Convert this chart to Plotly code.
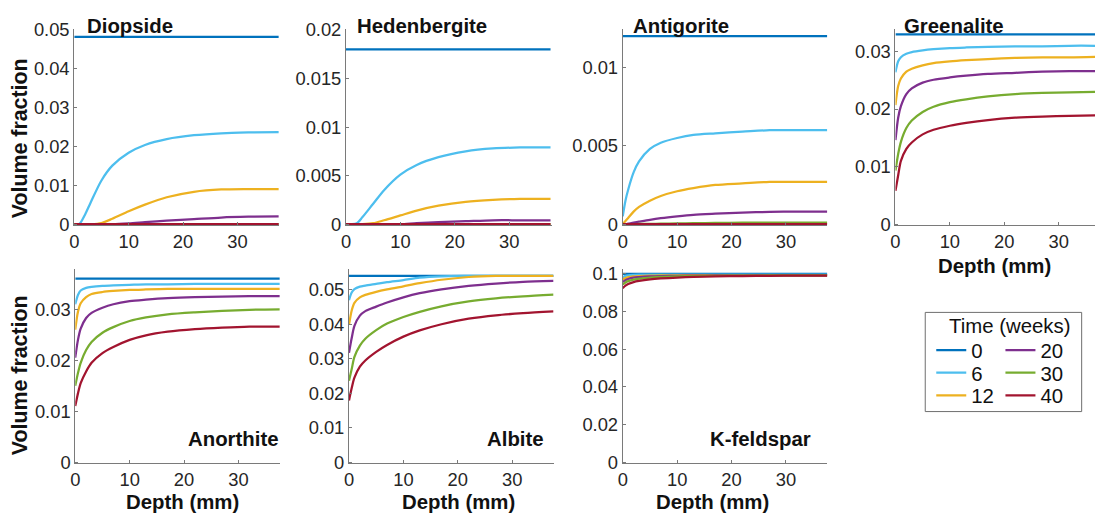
import plotly.graph_objects as go

# Target picture geometry. The page is photographed with an 8 px page margin and
# rescaled, so target pixels are mapped back to page pixels.
W_T, H_T = 1095, 516
OFF = 8
SX = W_T / (W_T + OFF)
SY = H_T / (H_T + 2 * OFF)
W, H = W_T, H_T + OFF
FS = 1 / ((SX + SY) / 2)  # font compensation

depth = [0, 0.5, 1, 2, 3, 5, 7, 10, 13, 17, 22, 27, 32, 37.6]
weeks = ["0", "6", "12", "20", "30", "40"]
colors = ["#0072BD", "#4DBEEE", "#EDB120", "#7E2F8E", "#77AC30", "#A2142F"]
x_ticks = [0, 10, 20, 30]

diopside = [
    [0.048, 0.048, 0.048, 0.048, 0.048, 0.048, 0.048, 0.048, 0.048, 0.048, 0.048, 0.048, 0.048, 0.048],
    [0, 0, 0.0001, 0.0025, 0.0055, 0.0112, 0.0150, 0.0183, 0.0203, 0.0218, 0.0228, 0.0233, 0.0235, 0.0236],
    [0, 0, 0, 0, 0, 0.0003, 0.0014, 0.0033, 0.0050, 0.0069, 0.0083, 0.0089, 0.0090, 0.0090],
    [0, 0, 0, 0, 0, 0, 0, 0.0002, 0.0005, 0.0009, 0.0013, 0.0017, 0.0019, 0.0020],
    [0, 0, 0, 0, 0, 0, 0, 0, 0, 0, 0, 0, 0, 0],
    [0, 0, 0, 0, 0, 0, 0, 0, 0, 0, 0, 0, 0, 0],
]
hedenbergite = [
    [0.018, 0.018, 0.018, 0.018, 0.018, 0.018, 0.018, 0.018, 0.018, 0.018, 0.018, 0.018, 0.018, 0.018],
    [0, 0, 0, 0.0001, 0.0007, 0.0021, 0.0035, 0.0051, 0.0061, 0.0069, 0.0075, 0.0078, 0.0079, 0.0079],
    [0, 0, 0, 0, 0, 0.0001, 0.0004, 0.0009, 0.0014, 0.0019, 0.0023, 0.0025, 0.0026, 0.0026],
    [0, 0, 0, 0, 0, 0, 0, 0, 0.0001, 0.0002, 0.0003, 0.0004, 0.0004, 0.0004],
    [0, 0, 0, 0, 0, 0, 0, 0, 0, 0, 0, 0, 0, 0],
    [0, 0, 0, 0, 0, 0, 0, 0, 0, 0, 0, 0, 0, 0],
]
antigorite = [
    [0.012, 0.012, 0.012, 0.012, 0.012, 0.012, 0.012, 0.012, 0.012, 0.012, 0.012, 0.012, 0.012, 0.012],
    [0.0005, 0.0015, 0.0022, 0.0033, 0.0040, 0.0048, 0.0052, 0.0055, 0.0057, 0.0058, 0.0059, 0.0060, 0.0060, 0.0060],
    [0, 0.0002, 0.0004, 0.0008, 0.0011, 0.0015, 0.0018, 0.0021, 0.0023, 0.0025, 0.0026, 0.0027, 0.0027, 0.0027],
    [0, 0, 0.00003, 0.0001, 0.00016, 0.00028, 0.00038, 0.0005, 0.0006, 0.00067, 0.00074, 0.00078, 0.0008, 0.0008],
    [0, 0, 0, 0, 0.00001, 0.00002, 0.00003, 0.00005, 0.00006, 0.00008, 0.00009, 0.0001, 0.0001, 0.0001],
    [0, 0, 0, 0, 0, 0, 0, 0, 0, 0, 0, 0, 0, 0],
]
greenalite = [
    [0.033, 0.033, 0.033, 0.033, 0.033, 0.033, 0.033, 0.033, 0.033, 0.033, 0.033, 0.033, 0.033, 0.033],
    [0.0264, 0.0283, 0.0290, 0.0296, 0.0299, 0.0302, 0.0304, 0.0306, 0.0307, 0.0308, 0.0309, 0.0309, 0.0310, 0.0310],
    [0.0207, 0.0240, 0.0253, 0.0265, 0.0270, 0.0276, 0.0280, 0.0283, 0.0285, 0.0287, 0.0289, 0.0290, 0.0290, 0.0291],
    [0.0146, 0.0185, 0.0205, 0.0226, 0.0236, 0.0246, 0.0251, 0.0255, 0.0258, 0.0261, 0.0263, 0.0265, 0.0266, 0.0266],
    [0.0093, 0.0122, 0.0143, 0.0167, 0.0180, 0.0195, 0.0204, 0.0212, 0.0217, 0.0222, 0.0226, 0.0228, 0.0229, 0.0230],
    [0.0058, 0.0085, 0.0110, 0.0131, 0.0142, 0.0156, 0.0164, 0.0171, 0.0176, 0.0181, 0.0185, 0.0187, 0.0188, 0.0189],
]
anorthite = [
    [0.036, 0.036, 0.036, 0.036, 0.036, 0.036, 0.036, 0.036, 0.036, 0.036, 0.036, 0.036, 0.036, 0.036],
    [0.0310, 0.0328, 0.0337, 0.0342, 0.0344, 0.0346, 0.0347, 0.0348, 0.0349, 0.0349, 0.0350, 0.0350, 0.0350, 0.0350],
    [0.0260, 0.0295, 0.0312, 0.0324, 0.0330, 0.0334, 0.0336, 0.0338, 0.0339, 0.0340, 0.0340, 0.0340, 0.0340, 0.0340],
    [0.0205, 0.0240, 0.0262, 0.0283, 0.0293, 0.0303, 0.0310, 0.0316, 0.0319, 0.0322, 0.0324, 0.0325, 0.0326, 0.0326],
    [0.0150, 0.0175, 0.0195, 0.0220, 0.0236, 0.0254, 0.0265, 0.0277, 0.0284, 0.0290, 0.0294, 0.0297, 0.0299, 0.0300],
    [0.0110, 0.0135, 0.0155, 0.0178, 0.0195, 0.0214, 0.0226, 0.0240, 0.0249, 0.0256, 0.0261, 0.0264, 0.0266, 0.0266],
]
albite = [
    [0.054, 0.054, 0.054, 0.054, 0.054, 0.054, 0.054, 0.054, 0.054, 0.054, 0.054, 0.054, 0.054, 0.054],
    [0.0470, 0.0492, 0.0502, 0.0509, 0.0512, 0.0517, 0.0522, 0.0528, 0.0535, 0.0539, 0.0540, 0.0540, 0.0540, 0.0540],
    [0.0398, 0.0440, 0.0462, 0.0478, 0.0485, 0.0494, 0.0501, 0.0510, 0.0519, 0.0529, 0.0537, 0.0540, 0.0540, 0.0540],
    [0.0317, 0.0360, 0.0395, 0.0425, 0.0438, 0.0451, 0.0463, 0.0478, 0.0490, 0.0501, 0.0511, 0.0518, 0.0523, 0.0526],
    [0.0236, 0.0270, 0.0305, 0.0338, 0.0358, 0.0383, 0.0402, 0.0421, 0.0436, 0.0452, 0.0466, 0.0475, 0.0481, 0.0486],
    [0.0179, 0.0215, 0.0245, 0.0277, 0.0295, 0.0320, 0.0340, 0.0364, 0.0382, 0.0400, 0.0416, 0.0426, 0.0432, 0.0437],
]
kfeldspar = [
    [0.1000, 0.1000, 0.1000, 0.1000, 0.1000, 0.1000, 0.1000, 0.1000, 0.1000, 0.1000, 0.1000, 0.1000, 0.1000, 0.1000],
    [0.0982, 0.0990, 0.0993, 0.0995, 0.0996, 0.0997, 0.0997, 0.0997, 0.0997, 0.0997, 0.0997, 0.0997, 0.0997, 0.0997],
    [0.0970, 0.0978, 0.0983, 0.0987, 0.0989, 0.0991, 0.0992, 0.0993, 0.0994, 0.0994, 0.0994, 0.0994, 0.0994, 0.0994],
    [0.0958, 0.0967, 0.0973, 0.0980, 0.0983, 0.0987, 0.0989, 0.0990, 0.0991, 0.0992, 0.0993, 0.0993, 0.0993, 0.0993],
    [0.0945, 0.0955, 0.0962, 0.0970, 0.0975, 0.0980, 0.0984, 0.0987, 0.0989, 0.0990, 0.0991, 0.0992, 0.0992, 0.0992],
    [0.0925, 0.0938, 0.0947, 0.0957, 0.0963, 0.0971, 0.0976, 0.0981, 0.0984, 0.0987, 0.0989, 0.0990, 0.0991, 0.0991],
]

diopside_yticks = [0, 0.01, 0.02, 0.03, 0.04, 0.05]
diopside_ylabels = ["0", "0.01", "0.02", "0.03", "0.04", "0.05"]
hedenbergite_yticks = [0, 0.005, 0.01, 0.015, 0.02]
hedenbergite_ylabels = ["0", "0.005", "0.01", "0.015", "0.02"]
antigorite_yticks = [0, 0.005, 0.01]
antigorite_ylabels = ["0", "0.005", "0.01"]
greenalite_yticks = [0, 0.01, 0.02, 0.03]
greenalite_ylabels = ["0", "0.01", "0.02", "0.03"]
anorthite_yticks = [0, 0.01, 0.02, 0.03]
anorthite_ylabels = ["0", "0.01", "0.02", "0.03"]
albite_yticks = [0, 0.01, 0.02, 0.03, 0.04, 0.05]
albite_ylabels = ["0", "0.01", "0.02", "0.03", "0.04", "0.05"]
kfeldspar_yticks = [0, 0.02, 0.04, 0.06, 0.08, 0.1]
kfeldspar_ylabels = ["0", "0.02", "0.04", "0.06", "0.08", "0.1"]

FONT = "Liberation Sans, Arial, sans-serif"
AX_COL = "#7a7a7a"
TXT = "#262626"

PX_PER_MM = 204 / 37.6

# name, data, yticks, ylabels, ymax, x-domain px, y-domain px (top, bottom), label style, label x
panels = [
    ("Diopside", diopside, diopside_yticks, diopside_ylabels, 0.05, (77, 281), (26, 224), "top", 88),
    ("Hedenbergite", hedenbergite, hedenbergite_yticks, hedenbergite_ylabels, 0.0201, (348, 553), (26, 224), "top", 357),
    ("Antigorite", antigorite, antigorite_yticks, antigorite_ylabels, 0.01245, (624, 828), (26, 224), "top", 632),
    ("Greenalite", greenalite, greenalite_yticks, greenalite_ylabels, 0.0339, (896, W_T), (26, 224), "top", 903),
    ("Anorthite", anorthite, anorthite_yticks, anorthite_ylabels, 0.0379, (78, 282), (268, 464), "bottom", 283),
    ("Albite", albite, albite_yticks, albite_ylabels, 0.056, (351, 555), (268, 464), "bottom", 547),
    ("K-feldspar", kfeldspar, kfeldspar_yticks, kfeldspar_ylabels, 0.1026, (624, 828), (268, 464), "bottom", 814),
]


def px_x(p):
    return min(1.0, max(0.0, (p / SX - OFF) / W))


def px_y(p):
    return min(1.0, max(0.0, 1 - (p / SY - OFF) / H))


fig = go.Figure()
layout = dict(
    width=W, height=H, margin=dict(l=0, r=0, t=0, b=0),
    paper_bgcolor="white", plot_bgcolor="white",
    font=dict(family=FONT, color=TXT),
    annotations=[], shapes=[],
)

legend_pos = [(931.7, 350), (931.7, 372.7), (931.7, 395.5), (1000.7, 350), (1000.7, 372.7), (1000.7, 395.5)]

for i, (name, data, yt, yl, ymax, dx, dy, lab, labx) in enumerate(panels):
    k = "" if i == 0 else str(i + 1)
    ppu = (dy[1] - dy[0]) / ymax
    ymin = -1.3 / ppu
    xmax = (dx[1] - dx[0]) / PX_PER_MM
    for j, series in enumerate(data):
        lg = "legend" if j == 0 else "legend" + str(j + 1)
        fig.add_trace(go.Scatter(
            x=depth, y=series, mode="lines", name=weeks[j],
            line=dict(color=colors[j], width=2.25, shape="spline", smoothing=0.8),
            xaxis="x" + k, yaxis="y" + k, showlegend=(i == 0), legend=lg,
            hoverinfo="skip",
        ))
    layout["xaxis" + k] = dict(
        domain=[px_x(dx[0]), px_x(dx[1])], anchor="y" + k, range=[0, xmax],
        tickvals=x_ticks, ticktext=[str(v) for v in x_ticks],
        showline=True, linecolor=AX_COL, linewidth=1, ticks="inside", ticklen=3,
        tickcolor=AX_COL, showgrid=False, zeroline=False,
        tickfont=dict(size=18 * FS, color=TXT, family=FONT),
    )
    layout["yaxis" + k] = dict(
        domain=[px_y(dy[1]), px_y(dy[0])], anchor="x" + k, range=[ymin, ymax],
        tickvals=yt, ticktext=yl,
        showline=True, linecolor=AX_COL, linewidth=1, ticks="inside", ticklen=3,
        tickcolor=AX_COL, showgrid=False, zeroline=False,
        tickfont=dict(size=18 * FS, color=TXT, family=FONT),
    )
    if lab == "top":
        layout["annotations"].append(dict(
            text="<b>" + name + "</b>", xref="paper", yref="paper",
            x=px_x(labx), y=px_y(23), xanchor="left", yanchor="middle",
            showarrow=False, font=dict(size=20 * FS, color="#111111", family=FONT),
        ))
    else:
        layout["annotations"].append(dict(
            text="<b>" + name + "</b>", xref="paper", yref="paper",
            x=px_x(labx), y=px_y(439), xanchor="right", yanchor="middle",
            showarrow=False, font=dict(size=20 * FS, color="#111111", family=FONT),
        ))

# axis titles
for (tx, ty) in [(185, 503), (460, 503), (714, 503), (995, 265)]:
    layout["annotations"].append(dict(
        text="<b>Depth (mm)</b>", xref="paper", yref="paper",
        x=px_x(tx), y=px_y(ty), xanchor="center", yanchor="middle",
        showarrow=False, font=dict(size=20 * FS, color="#111111", family=FONT),
    ))
for ty in [136, 375]:
    layout["annotations"].append(dict(
        text="<b>Volume fraction</b>", xref="paper", yref="paper",
        x=px_x(23), y=px_y(ty), xanchor="center", yanchor="middle", textangle=-90,
        showarrow=False, font=dict(size=21 * FS, color="#111111", family=FONT),
    ))

# legend title and box
layout["annotations"].append(dict(
    text="Time (weeks)", xref="paper", yref="paper",
    x=px_x(1010.5), y=px_y(325), xanchor="center", yanchor="middle",
    showarrow=False, font=dict(size=20 * FS, color="#111111", family=FONT),
))
layout["shapes"].append(dict(
    type="rect", xref="paper", yref="paper",
    x0=px_x(925.7), x1=px_x(1081.7), y0=px_y(411.7), y1=px_y(311.7),
    line=dict(color="#6e6e6e", width=1), fillcolor="rgba(0,0,0,0)",
))

for j, (lx, ly) in enumerate(legend_pos):
    key = "legend" if j == 0 else "legend" + str(j + 1)
    layout[key] = dict(
        x=px_x(lx), y=px_y(ly), xanchor="left", yanchor="middle",
        bgcolor="rgba(0,0,0,0)", borderwidth=0,
        font=dict(size=20 * FS, color="#111111", family=FONT),
        itemclick=False, itemdoubleclick=False,
    )

fig.update_layout(**layout)
fig.write_html("out.html", config={"displayModeBar": False})
